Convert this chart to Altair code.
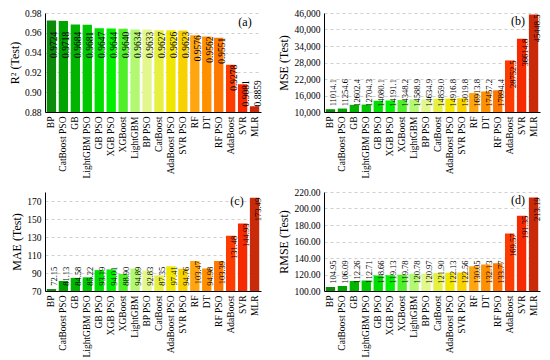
import altair as alt
import pandas as pd

models = ["BP", "CatBoost PSO", "GB", "LightGBM PSO", "GB PSO", "XGB PSO", "XGBoost",
          "LightGBM", "BP PSO", "CatBoost", "AdaBoost PSO", "SVR PSO", "RF", "DT",
          "RF PSO", "AdaBoost", "SVR", "MLR"]
r2 = [0.9724, 0.9718, 0.9684, 0.9681, 0.9647, 0.9644, 0.9640, 0.9634, 0.9633, 0.9627,
      0.9626, 0.9623, 0.9576, 0.9562, 0.9551, 0.9278, 0.9081, 0.8859]
mse = [11014.1, 11254.6, 12602.4, 12704.3, 14080.1, 14191.1, 14348.2, 14588.9, 14634.9,
       14859.0, 14916.8, 15019.8, 16913.8, 17457.2, 17894.4, 28752.5, 36614.8, 45448.5]
mae = [72.15, 81.13, 84.58, 85.22, 93.19, 94.01, 88.90, 94.89, 92.83, 87.35, 97.41,
       94.76, 103.47, 94.98, 103.39, 131.48, 144.93, 173.49]
rmse = [104.95, 106.09, 112.26, 112.71, 118.66, 119.13, 119.78, 120.78, 120.97, 121.90,
        122.13, 122.56, 130.05, 132.13, 133.77, 169.57, 191.35, 213.19]
colors = ["#0a8c0a", "#00a300", "#00b400", "#00c800", "#00de00", "#00f000", "#50f028",
          "#b2f870", "#e2f88c", "#e6f040", "#f0e600", "#f8d200", "#ffa510", "#ff9000",
          "#ff7800", "#ff3c00", "#f52a00", "#c82a0a"]

FONT = "Liberation Serif"
W, H = 216, 99


def panel(values, ytitle, domain, ticks, yfmt, lfmt, letter, lo, hi, lsize, lx, ly):
    df = pd.DataFrame({"model": models, "v": values})
    base = alt.Chart(df).transform_calculate(
        lp=f"clamp(datum.v, {lo}, {hi})"
    )
    ysc = alt.Scale(domain=domain, zero=False, nice=False)
    xsc = alt.Scale(paddingInner=0.22, paddingOuter=0.15)
    xaxis = alt.Axis(labelAngle=-90, ticks=False, labelPadding=4,
                     labelFont=FONT, labelFontSize=9.5, labelColor="black",
                     domainColor="black")
    yaxis = alt.Axis(values=ticks, format=yfmt, ticks=False, grid=True,
                     gridDash=[3, 3], gridColor="#cfcfcf", labelOverlap=False,
                     labelFont=FONT, labelFontSize=9.5, labelColor="black",
                     titleFont=FONT, titleFontSize=12, titleFontWeight="normal",
                     titleColor="black",
                     domainColor="black", labelPadding=4, titlePadding=3)
    bars = base.mark_bar(clip=True).encode(
        x=alt.X("model:N", sort=models, title=None, scale=xsc, axis=xaxis),
        y=alt.Y("v:Q", scale=ysc, title=ytitle, axis=yaxis),
        color=alt.Color("model:N", scale=alt.Scale(domain=models, range=colors),
                        legend=None),
    )
    labels = base.mark_text(angle=270, align="right", baseline="middle", dy=3,
                            font=FONT, fontSize=lsize, color="black").encode(
        x=alt.X("model:N", sort=models, title=None, scale=xsc, axis=xaxis),
        y=alt.Y("lp:Q", scale=ysc, title=ytitle, axis=yaxis),
        text=alt.Text("v:Q", format=lfmt),
    )
    tag = alt.Chart(pd.DataFrame({"t": [letter]})).mark_text(
        font=FONT, fontSize=12, color="black", align="center", baseline="top"
    ).encode(x=alt.value(lx), y=alt.value(ly), text="t:N")
    return alt.layer(bars, labels, tag).properties(width=W, height=H)


pa = panel(r2, "R² (Test)", [0.88, 0.98], [0.88, 0.90, 0.92, 0.94, 0.96, 0.98],
           ".2f", ".4f", "(a)", 0.912, 0.961, 9.5, W - 16, 4)
pb = panel(mse, "MSE (Test)", [10000, 46000], [10000, 16000, 22000, 28000, 34000, 40000, 46000],
           ",.0f", ".1f", "(b)", 22000, 50000, 8.5, W - 22, 3)
pc = panel(mae, "MAE (Test)", [70, 180], [70, 90, 110, 130, 150, 170],
           "d", ".2f", "(c)", 97, 200, 8.5, W - 24, 4)
pd_ = panel(rmse, "RMSE (Test)", [100, 220], [100, 120, 140, 160, 180, 200, 220],
            ".2f", ".2f", "(d)", 137, 300, 8.5, W - 22, 3)

chart = alt.vconcat(
    alt.hconcat(pa, pb, spacing=14),
    alt.hconcat(pc, pd_, spacing=14),
    spacing=8,
    padding=0,
).configure_view(stroke=None)

chart.save("out.html", embed_options={"renderer": "svg", "actions": False})
